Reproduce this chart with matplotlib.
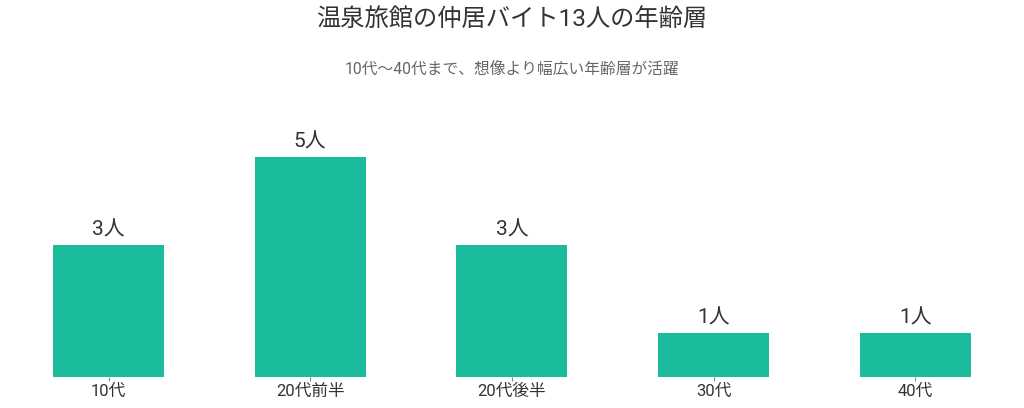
import matplotlib
matplotlib.use("Agg")
import matplotlib.pyplot as plt

plt.rcParams['font.family'] = ['Roboto', 'Noto Sans CJK JP', 'DejaVu Sans']

categories = ['10代', '20代前半', '20代後半', '30代', '40代']
values = [3, 5, 3, 1, 1]
value_labels = ['3人', '5人', '3人', '1人', '1人']
title = '温泉旅館の仲居バイト13人の年齢層'
subtitle = '10代〜40代まで、想像より幅広い年齢層が活躍'

W, H = 1024, 408
fig = plt.figure(figsize=(W / 100, H / 100), dpi=100)

# axes placement in pixels
x0_px, step_px = 108.5, 201.7
left_px = x0_px - 0.5 * step_px
right_px = x0_px + 4.5 * step_px
bottom_px = 377
unit_px = 44
ymax = 5.5
top_px = bottom_px - ymax * unit_px
ax = fig.add_axes([left_px / W, (H - bottom_px) / H, (right_px - left_px) / W, (bottom_px - top_px) / H])

xs = list(range(len(categories)))
ax.bar(xs, values, width=0.55, color='#1ABC9C')
ax.set_xlim(-0.5, 4.5)
ax.set_ylim(0, ymax)
for x, v, lab in zip(xs, values, value_labels):
    ax.annotate(lab, (x, v), xytext=(0, 4), textcoords='offset points',
                ha='center', va='bottom', fontsize=15, color='#333333')

ax.set_xticks(xs)
ax.set_xticklabels(categories, fontsize=12, color='#333333')
ax.tick_params(axis='x', length=3, color='#888888', pad=2)
ax.set_yticks([])
for s in ax.spines.values():
    s.set_visible(False)

fig.text(0.5, 1 - 19 / H, title, ha='center', va='center', fontsize=17.5, color='#333333')
fig.text(0.5, 1 - 70 / H, subtitle, ha='center', va='center', fontsize=11.3, color='#666666')

fig.savefig('out.png', dpi=100, facecolor='white')
